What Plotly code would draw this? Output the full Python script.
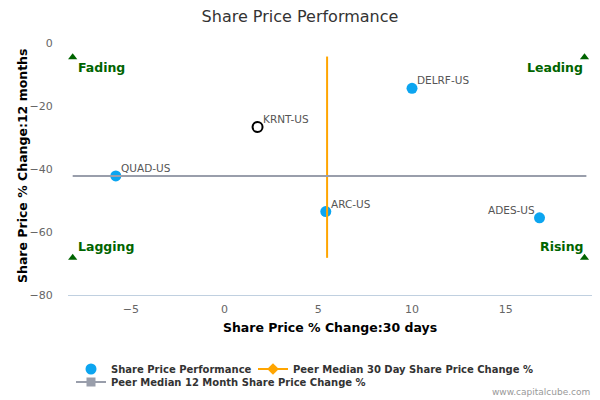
import plotly.graph_objects as go

# peers: 30 day change vs 12 month change
tickers = ["DELRF-US", "QUAD-US", "ARC-US", "ADES-US"]
chg_30d = [10.0, -5.8, 5.4, 16.8]
chg_12m = [-14.4, -42.2, -53.5, -55.5]
label_side = ["right", "right", "right", "left"]

# the company itself
own_ticker = ["KRNT-US"]
own_30d = [1.76]
own_12m = [-26.7]

# peer medians
median_30d = 5.47
median_12m = -42.2
median_30d_span = [-4.3, -68.2]
median_12m_span = [-8.1, 19.3]

# quadrant markers
quad_names = ["Fading", "Leading", "Lagging", "Rising"]
quad_x = [-8.1, 19.2, -8.1, 19.2]
quad_y = [-4.5, -4.5, -68.2, -68.2]

x_ticks = [-5, 0, 5, 10, 15]
y_ticks = [0, -20, -40, -60, -80]

font_family = "DejaVu Sans, Verdana, sans-serif"
blue = "#0ca5f0"
orange = "#ffa500"
grey = "#999eab"
green = "#006400"

fig = go.Figure()

fig.add_trace(go.Scatter(
    x=chg_30d, y=chg_12m, mode="markers",
    marker=dict(size=11, color=blue),
    name="Share Price Performance", legend="legend",
))

fig.add_trace(go.Scatter(
    x=own_30d, y=own_12m, mode="markers",
    marker=dict(size=10, color="white", line=dict(color="black", width=2)),
    showlegend=False,
))

# median lines (drawn without legend, legend entries added below)
fig.add_trace(go.Scatter(
    x=[median_30d, median_30d], y=median_30d_span, mode="lines",
    line=dict(color=orange, width=2), showlegend=False, hoverinfo="skip",
))
fig.add_trace(go.Scatter(
    x=median_12m_span, y=[median_12m, median_12m], mode="lines",
    line=dict(color=grey, width=2), showlegend=False, hoverinfo="skip",
))

fig.add_trace(go.Scatter(
    x=[None], y=[None], mode="lines+markers",
    line=dict(color=orange, width=2),
    marker=dict(symbol="diamond", size=9, color=orange),
    name="Peer Median 30 Day Share Price Change %", legend="legend2",
))
fig.add_trace(go.Scatter(
    x=[None], y=[None], mode="lines+markers",
    line=dict(color=grey, width=2),
    marker=dict(symbol="square", size=9, color=grey),
    name="Peer Median 12 Month Share Price Change %", legend="legend3",
))

fig.add_trace(go.Scatter(
    x=quad_x, y=quad_y, mode="markers",
    marker=dict(symbol="triangle-up", size=8, color=green),
    showlegend=False, hoverinfo="skip",
))

annotations = []
for name, x, y, side in zip(tickers + own_ticker, chg_30d + own_30d,
                            chg_12m + own_12m, label_side + ["right"]):
    annotations.append(dict(
        text=name, x=x, y=y, xref="x", yref="y", showarrow=False,
        xanchor="left" if side == "right" else "right", yanchor="bottom",
        xshift=3 if side == "right" else -3, yshift=0,
        font=dict(size=10.5, color="#555555", family=font_family)))

for name, x, y in zip(quad_names, quad_x, quad_y):
    left = x < 0
    top = y > -40
    annotations.append(dict(
        text="<b>%s</b>" % name, x=x, y=y, xref="x", yref="y",
        showarrow=False,
        xanchor="left" if left else "right",
        yanchor="top" if top else "bottom",
        xshift=3 if left else 0, yshift=-1 if top else 2,
        font=dict(size=12.5, color=green, family=font_family)))

# y axis title as annotation so it sits where the original has it
annotations.append(dict(
    text="<b>Share Price % Change:12 months</b>", textangle=-90,
    xref="paper", yref="paper", x=(22 - 68) / 524, y=(295 - 166) / 252,
    xanchor="center", yanchor="middle", showarrow=False,
    font=dict(size=12.5, color="#000000")))

annotations.append(dict(
    text="www.capitalcube.com", xref="paper", yref="paper",
    x=1.0, y=-(392 - 295) / 252, xanchor="right", yanchor="middle",
    showarrow=False, font=dict(size=9, color="#999999")))

legend_style = dict(orientation="h", xref="container", yref="container",
                    xanchor="left", yanchor="middle",
                    font=dict(size=10, color="#333333", weight="bold"),
                    itemclick=False, bgcolor="rgba(0,0,0,0)")

fig.update_layout(
    width=600, height=400,
    margin=dict(l=68, r=8, t=43, b=105, autoexpand=False),
    paper_bgcolor="white", plot_bgcolor="white",
    font=dict(family=font_family, color="#333333"),
    title=dict(text="Share Price Performance", x=0.5, xanchor="center",
               xref="container", yref="container",
               y=1 - 16 / 400, yanchor="middle",
               font=dict(size=16, color="#333333")),
    showlegend=True,
    legend=dict(x=71 / 600, y=1 - 369 / 400, **legend_style),
    legend2=dict(x=253 / 600, y=1 - 369 / 400, **legend_style),
    legend3=dict(x=71 / 600, y=1 - 382 / 400, **legend_style),
    annotations=annotations,
)

fig.update_xaxes(
    range=[-8.35, 19.6], tickvals=x_ticks, showgrid=False, zeroline=False,
    showline=True, linecolor="#c0d0e0", linewidth=1, automargin=False,
    ticks="outside", ticklen=4, tickcolor="rgba(0,0,0,0)",
    tickfont=dict(size=11, color="#666666"),
    title=dict(text="<b>Share Price % Change:30 days</b>",
               font=dict(size=12.5, color="#000000"), standoff=8),
)
fig.update_yaxes(
    range=[-80, 0], tickvals=y_ticks, showgrid=False, zeroline=False,
    showline=False, automargin=False,
    ticks="outside", ticklen=12, tickcolor="rgba(0,0,0,0)",
    tickfont=dict(size=11, color="#666666"),
)

# page body has an 8px default margin, drop it so the figure fills the window
fig.write_html("out.html", config={"displayModeBar": False},
               post_script="document.body.style.margin='0';")
